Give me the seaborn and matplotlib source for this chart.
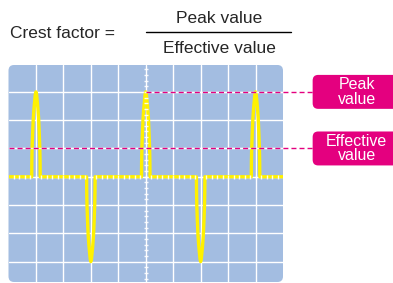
import seaborn as sns
import matplotlib.pyplot as plt
from matplotlib.patches import FancyBboxPatch
from matplotlib.lines import Line2D

# datos (unidades = divisiones de la pantalla)
pulse_centers = [1, 3, 5, 7, 9]
pulse_heights = [3, -3, 3, -3, 3]
# forma de un pulso: desplazamiento y fraccion de altura
profile_dx = [-0.155, -0.15, -0.14, -0.12, -0.097, -0.07, -0.047, -0.023, 0.0,
              0.023, 0.047, 0.07, 0.097, 0.12, 0.14, 0.15, 0.155]
profile_h = [0.0, 0.18, 0.34, 0.52, 0.69, 0.81, 0.89, 0.97, 1.0,
             0.97, 0.89, 0.81, 0.69, 0.52, 0.34, 0.18, 0.0]
peak_level = 3
effective_level = 1
labels = ["Peak\nvalue", "Effective\nvalue"]

BLUE = "#a3bde1"
YELLOW = "#fff100"
MAGENTA = "#e4007f"

sns.set_theme(style="white")
plt.rcParams["font.family"] = ["Liberation Sans", "DejaVu Sans"]

fig = plt.figure(figsize=(3.93, 2.83), dpi=100)
ax = fig.add_axes([8.5 / 393, 1 / 283, 274.5 / 393, 217 / 283])
ax.set_xlim(0, 10)
ax.set_ylim(-3.72, 3.95)
ax.set_facecolor("none")
for s in ax.spines.values():
    s.set_visible(False)

# pantalla del osciloscopio
screen = FancyBboxPatch((0, -3.72), 10, 7.67, boxstyle="round,pad=0,rounding_size=0.2",
                        fc=BLUE, ec="none", zorder=0, clip_on=False)
ax.add_patch(screen)

ax.set_xticks(range(1, 10))
ax.set_yticks(range(-3, 4))
ax.tick_params(length=0, labelbottom=False, labelleft=False)
ax.grid(True, color="white", lw=1.0)
ax.set_axisbelow(True)

# traza
trace_x = [0.0]
trace_y = [0.0]
for c, a in zip(pulse_centers, pulse_heights):
    trace_x += [c + d for d in profile_dx]
    trace_y += [a * h for h in profile_h]
trace_x.append(10.0)
trace_y.append(0.0)
sns.lineplot(x=trace_x, y=trace_y, sort=False, estimator=None, color=YELLOW,
             lw=2.4, ax=ax, zorder=3, solid_joinstyle="round")

# marcas pequenas en los ejes centrales
minor = [i * 0.2 for i in range(-18, 20)]
ax.plot([5] * len(minor), minor, ls="none", marker="_", ms=3, mew=1.0,
        color="white", zorder=4, alpha=0.9)
minor_x = [i * 0.2 for i in range(1, 50)]
ax.plot(minor_x, [0] * len(minor_x), ls="none", marker="|", ms=3, mew=1.0,
        color="white", zorder=4, alpha=0.9)

# lineas de referencia y etiquetas
box_left = 11.08
for x0, level, txt in [(5, peak_level, labels[0]), (0, effective_level, labels[1])]:
    ax.plot([x0, 10], [level, level], color="white", lw=1.0, alpha=0.8, zorder=4)
    ax.plot([x0, box_left], [level, level], color=MAGENTA, lw=1.0,
            dashes=(3.6, 2.2), zorder=5, clip_on=False)
    box = FancyBboxPatch((box_left, level - 0.6), 3.4, 1.2,
                         boxstyle="round,pad=0,rounding_size=0.2",
                         fc=MAGENTA, ec="none", clip_on=False, zorder=5)
    ax.add_patch(box)
    ax.text(12.68, level, txt, ha="center", va="center", color="white",
            fontsize=11.5, linespacing=0.95, zorder=6, clip_on=False)

# formula
fig.text(10 / 393, 1 - 37.7 / 283, "Crest factor =", fontsize=12.5, va="baseline")
fig.text(218.8 / 393, 1 - 23.3 / 283, "Peak value", fontsize=12.5, ha="center", va="baseline")
fig.text(219 / 393, 1 - 53.3 / 283, "Effective value", fontsize=12.5, ha="center", va="baseline")
fig.add_artist(Line2D([146 / 393, 290.7 / 393], [1 - 31.7 / 283] * 2, color="black", lw=1.0))

fig.savefig("out.png", dpi=100)
